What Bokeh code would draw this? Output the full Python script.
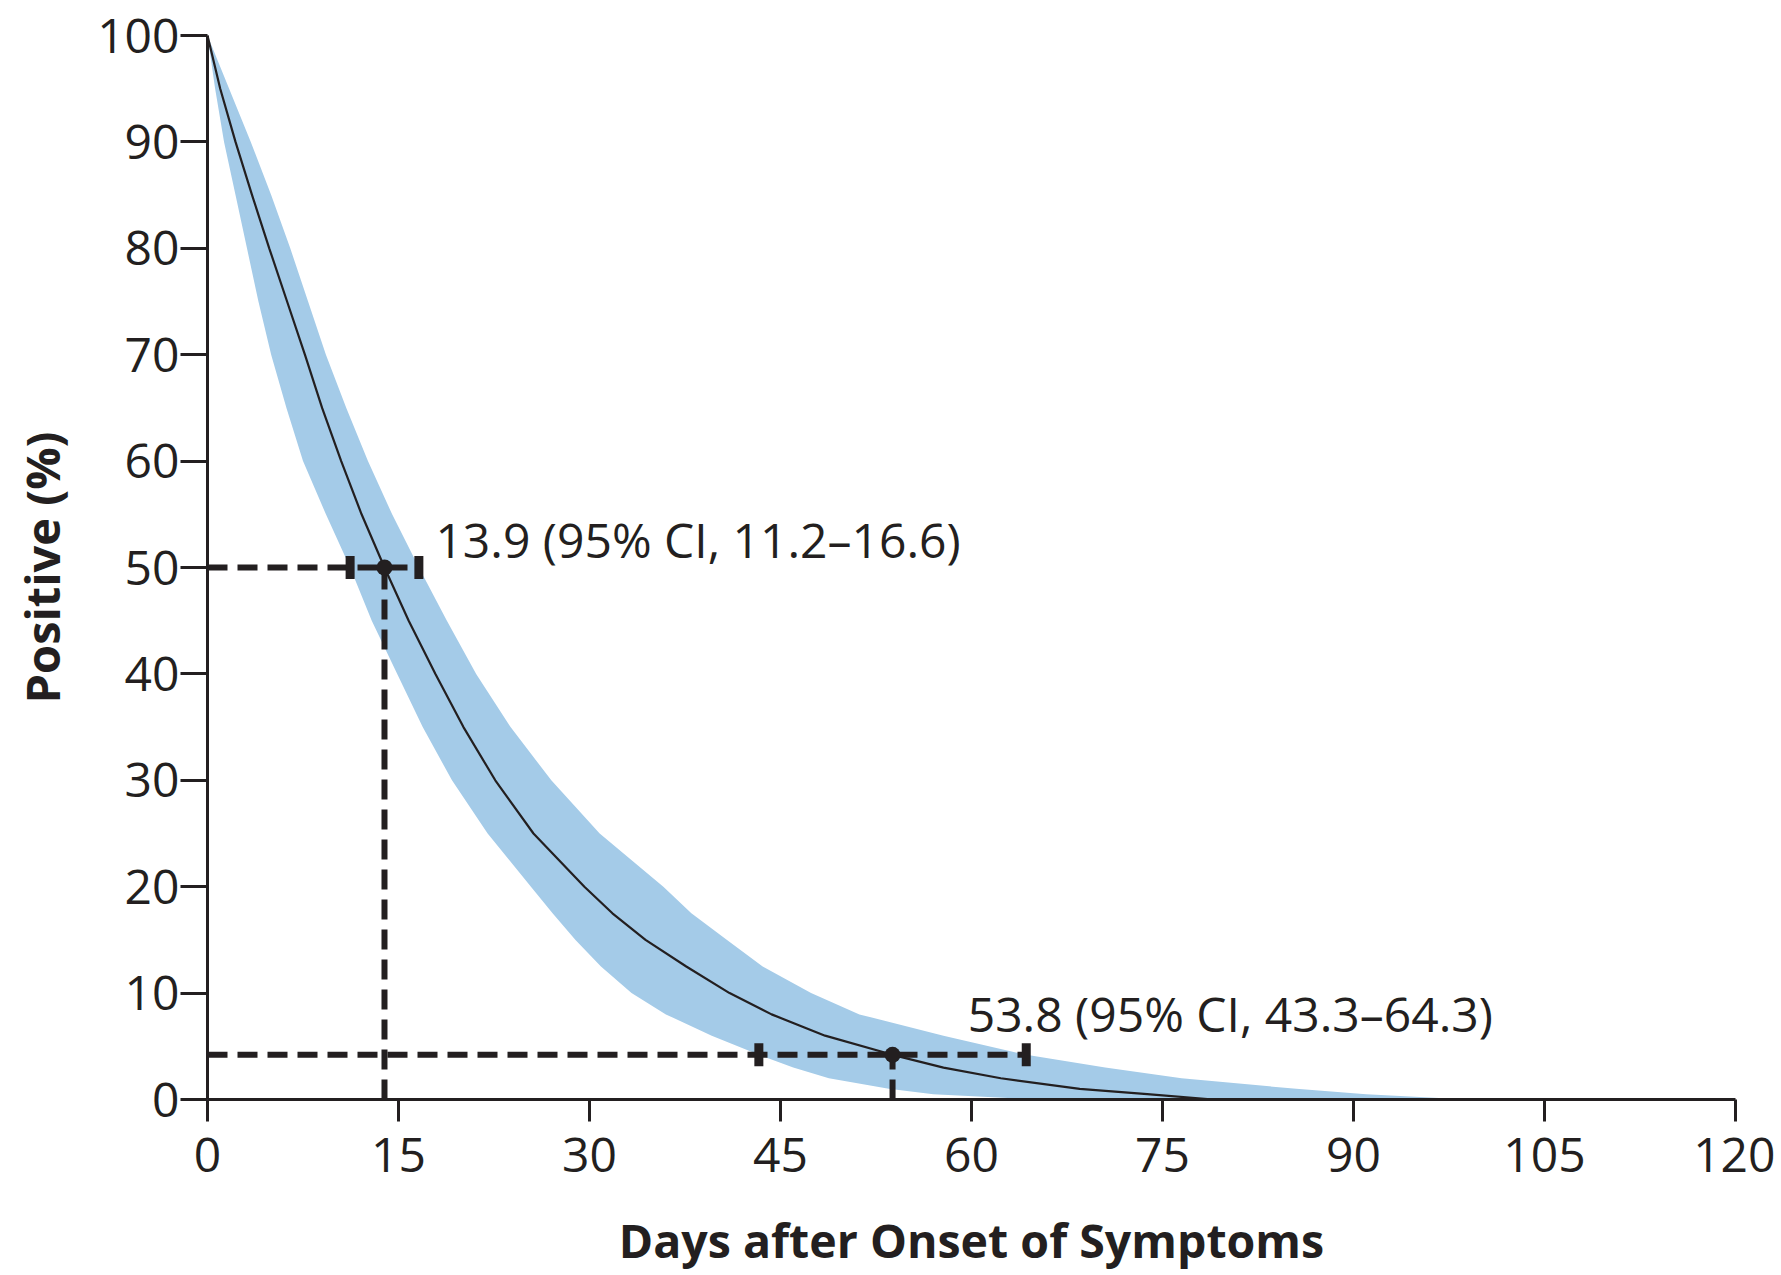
from bokeh.plotting import figure
from bokeh.models import Range1d, FixedTicker
from bokeh.core.properties import value
from bokeh.embed import file_html
from bokeh.resources import INLINE

# ---- data ----
# percentage still positive, and days (median and 95% CI) at which it is reached
pct_levels = [100, 95, 90, 85, 80, 75, 70, 65, 60, 55, 50, 45, 40, 35, 30, 25, 20, 17.5, 15, 12.5,
              10, 8, 6, 4.2, 3, 2, 1, 0.5, 0]
days_median = [0, 1.0, 2.2, 3.5, 4.85, 6.25, 7.65, 9.0, 10.5, 12.1, 13.9, 15.8, 17.9, 20.1, 22.6, 25.6, 29.6, 31.8, 34.4, 37.6,
               41.0, 44.3, 48.5, 53.8, 57.8, 62.3, 68.5, 73.8, 79.0]
days_lower = [0, 0.6, 1.3, 2.2, 3.1, 4.0, 5.0, 6.2, 7.5, 9.3, 11.2, 12.9, 14.9, 16.9, 19.2, 22.0, 25.4, 27.1, 28.9, 30.9,
              33.3, 36.0, 39.6, 43.3, 46.0, 48.8, 53.5, 57.0, 65.0]
days_upper = [0, 1.7, 3.4, 5.0, 6.5, 7.9, 9.3, 10.9, 12.6, 14.5, 16.6, 18.8, 21.1, 23.8, 27.0, 30.8, 35.8, 38.0, 40.8, 43.6,
              47.4, 51.2, 57.8, 64.3, 70.5, 76.5, 85.5, 91.0, 99.0]

mark_levels = [50, 4.2]
mark_median = [13.9, 53.8]
mark_ci_low = [11.2, 43.3]
mark_ci_high = [16.6, 64.3]
label_x = [17.9, 59.7]
label_y = [52.6, 8.1]

x_ticks = [0, 15, 30, 45, 60, 75, 90, 105, 120]
y_ticks = [0, 10, 20, 30, 40, 50, 60, 70, 80, 90, 100]

INK = "#231f20"
BAND = "#a4cbe8"
FONT = "Open Sans"

label_text = [f"{m} (95% CI, {lo}\u2013{hi})" for m, lo, hi in zip(mark_median, mark_ci_low, mark_ci_high)]

p = figure(width=1775, height=1274, output_backend="svg", toolbar_location=None,
           x_range=Range1d(0, 120), y_range=Range1d(0, 100),
           min_border_left=207, min_border_right=40, min_border_top=35, min_border_bottom=175,
           x_axis_label="Days after Onset of Symptoms", y_axis_label="Positive (%)")
p.outline_line_color = None
p.grid.visible = False
p.background_fill_color = "white"
p.border_fill_color = "white"

for ax in (p.xaxis[0], p.yaxis[0]):
    ax.axis_line_width = 3
    ax.axis_line_color = INK
    ax.major_tick_line_width = 3
    ax.major_tick_line_color = INK
    ax.major_tick_in = 0
    ax.minor_tick_in = 0
    ax.minor_tick_out = 0
    ax.major_label_text_font = FONT
    ax.major_label_text_font_size = "48px"
    ax.major_label_text_color = INK
    ax.axis_label_text_font = FONT
    ax.axis_label_text_font_style = "bold"
    ax.axis_label_text_color = INK

p.xaxis[0].axis_label_text_font_size = "46.5px"
p.yaxis[0].axis_label_text_font_size = "47px"
p.xaxis[0].ticker = FixedTicker(ticks=x_ticks)
p.yaxis[0].ticker = FixedTicker(ticks=y_ticks)
p.xaxis[0].major_tick_out = 22
p.yaxis[0].major_tick_out = 27
p.xaxis[0].major_label_standoff = 16
p.yaxis[0].major_label_standoff = 1
p.xaxis[0].axis_label_standoff = 33
p.yaxis[0].axis_label_standoff = 20

# confidence band (days to reach each percentage level)
p.harea(y=pct_levels, x1=days_lower, x2=days_upper, fill_color=BAND, fill_alpha=1.0)
# median curve
p.line(x=days_median, y=pct_levels, line_color=INK, line_width=2.2)

# dashed guide lines
p.segment(x0=[0] * len(mark_levels), y0=mark_levels, x1=mark_ci_high, y1=mark_levels,
          line_color=INK, line_width=6, line_dash="20 10")
p.segment(x0=mark_median, y0=[0] * len(mark_levels), x1=mark_median, y1=mark_levels,
          line_color=INK, line_width=6, line_dash="20 10")

# CI caps and median points
p.rect(x=mark_ci_low + mark_ci_high, y=mark_levels + mark_levels, width=9, height=23,
       width_units="screen", height_units="screen", fill_color=INK, line_color=None)
p.scatter(x=mark_median, y=mark_levels, size=16, marker="circle", fill_color=INK, line_color=None)

# annotations
p.text(x=label_x, y=label_y, text=label_text, text_font=value(FONT), text_font_size="48px",
       text_color=INK, text_align="left", text_baseline="alphabetic")

open("out.html", "w").write(file_html(p, INLINE))
